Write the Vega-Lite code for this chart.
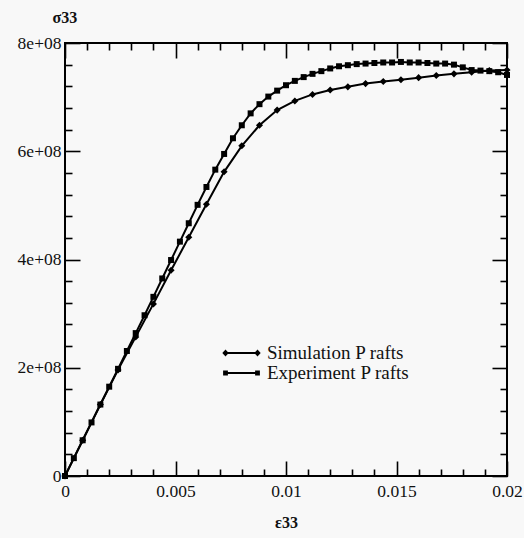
{
  "$schema": "https://vega.github.io/schema/vega-lite/v6.json",
  "autosize": {"type": "none"},
  "padding": {"left": 65, "top": 43, "right": 17, "bottom": 62},
  "width": 442,
  "height": 433,
  "background": "#f8f8f8",
  "config": {
    "view": {"stroke": "black", "strokeWidth": 2},
    "axis": {
      "grid": false,
      "domain": false,
      "tickColor": "black",
      "tickWidth": 1.6,
      "labelFont": "Liberation Serif",
      "labelFontSize": 17.5,
      "labelColor": "#111",
      "titleFont": "Liberation Serif",
      "titleFontSize": 16,
      "titleFontWeight": "bold",
      "titleColor": "#111",
      "labelOverlap": false,
      "labelFlush": false
    }
  },
  "data": {
    "values": [
      {"series": "Simulation P rafts", "strain": 0, "stress": 0},
      {"series": "Simulation P rafts", "strain": 0.0008, "stress": 0.66e8},
      {"series": "Simulation P rafts", "strain": 0.0016, "stress": 1.32e8},
      {"series": "Simulation P rafts", "strain": 0.0024, "stress": 1.96e8},
      {"series": "Simulation P rafts", "strain": 0.0032, "stress": 2.57e8},
      {"series": "Simulation P rafts", "strain": 0.004, "stress": 3.18e8},
      {"series": "Simulation P rafts", "strain": 0.0048, "stress": 3.80e8},
      {"series": "Simulation P rafts", "strain": 0.0056, "stress": 4.41e8},
      {"series": "Simulation P rafts", "strain": 0.0064, "stress": 5.02e8},
      {"series": "Simulation P rafts", "strain": 0.0072, "stress": 5.62e8},
      {"series": "Simulation P rafts", "strain": 0.008, "stress": 6.10e8},
      {"series": "Simulation P rafts", "strain": 0.0088, "stress": 6.48e8},
      {"series": "Simulation P rafts", "strain": 0.0096, "stress": 6.76e8},
      {"series": "Simulation P rafts", "strain": 0.0104, "stress": 6.93e8},
      {"series": "Simulation P rafts", "strain": 0.0112, "stress": 7.05e8},
      {"series": "Simulation P rafts", "strain": 0.012, "stress": 7.13e8},
      {"series": "Simulation P rafts", "strain": 0.0128, "stress": 7.19e8},
      {"series": "Simulation P rafts", "strain": 0.0136, "stress": 7.25e8},
      {"series": "Simulation P rafts", "strain": 0.0144, "stress": 7.29e8},
      {"series": "Simulation P rafts", "strain": 0.0152, "stress": 7.32e8},
      {"series": "Simulation P rafts", "strain": 0.016, "stress": 7.36e8},
      {"series": "Simulation P rafts", "strain": 0.0168, "stress": 7.40e8},
      {"series": "Simulation P rafts", "strain": 0.0176, "stress": 7.43e8},
      {"series": "Simulation P rafts", "strain": 0.0184, "stress": 7.46e8},
      {"series": "Simulation P rafts", "strain": 0.0192, "stress": 7.49e8},
      {"series": "Simulation P rafts", "strain": 0.02, "stress": 7.50e8},
      {"series": "Experiment P rafts", "strain": 0, "stress": 0},
      {"series": "Experiment P rafts", "strain": 0.0004, "stress": 0.33e8},
      {"series": "Experiment P rafts", "strain": 0.0008, "stress": 0.66e8},
      {"series": "Experiment P rafts", "strain": 0.0012, "stress": 0.99e8},
      {"series": "Experiment P rafts", "strain": 0.0016, "stress": 1.32e8},
      {"series": "Experiment P rafts", "strain": 0.002, "stress": 1.65e8},
      {"series": "Experiment P rafts", "strain": 0.0024, "stress": 1.98e8},
      {"series": "Experiment P rafts", "strain": 0.0028, "stress": 2.31e8},
      {"series": "Experiment P rafts", "strain": 0.0032, "stress": 2.64e8},
      {"series": "Experiment P rafts", "strain": 0.0036, "stress": 2.97e8},
      {"series": "Experiment P rafts", "strain": 0.004, "stress": 3.31e8},
      {"series": "Experiment P rafts", "strain": 0.0044, "stress": 3.65e8},
      {"series": "Experiment P rafts", "strain": 0.0048, "stress": 3.99e8},
      {"series": "Experiment P rafts", "strain": 0.0052, "stress": 4.33e8},
      {"series": "Experiment P rafts", "strain": 0.0056, "stress": 4.67e8},
      {"series": "Experiment P rafts", "strain": 0.006, "stress": 5.01e8},
      {"series": "Experiment P rafts", "strain": 0.0064, "stress": 5.34e8},
      {"series": "Experiment P rafts", "strain": 0.0068, "stress": 5.66e8},
      {"series": "Experiment P rafts", "strain": 0.0072, "stress": 5.95e8},
      {"series": "Experiment P rafts", "strain": 0.0076, "stress": 6.24e8},
      {"series": "Experiment P rafts", "strain": 0.008, "stress": 6.48e8},
      {"series": "Experiment P rafts", "strain": 0.0084, "stress": 6.70e8},
      {"series": "Experiment P rafts", "strain": 0.0088, "stress": 6.87e8},
      {"series": "Experiment P rafts", "strain": 0.0092, "stress": 7.01e8},
      {"series": "Experiment P rafts", "strain": 0.0096, "stress": 7.12e8},
      {"series": "Experiment P rafts", "strain": 0.01, "stress": 7.22e8},
      {"series": "Experiment P rafts", "strain": 0.0104, "stress": 7.30e8},
      {"series": "Experiment P rafts", "strain": 0.0108, "stress": 7.37e8},
      {"series": "Experiment P rafts", "strain": 0.0112, "stress": 7.43e8},
      {"series": "Experiment P rafts", "strain": 0.0116, "stress": 7.48e8},
      {"series": "Experiment P rafts", "strain": 0.012, "stress": 7.53e8},
      {"series": "Experiment P rafts", "strain": 0.0124, "stress": 7.57e8},
      {"series": "Experiment P rafts", "strain": 0.0128, "stress": 7.59e8},
      {"series": "Experiment P rafts", "strain": 0.0132, "stress": 7.61e8},
      {"series": "Experiment P rafts", "strain": 0.0136, "stress": 7.62e8},
      {"series": "Experiment P rafts", "strain": 0.014, "stress": 7.63e8},
      {"series": "Experiment P rafts", "strain": 0.0144, "stress": 7.64e8},
      {"series": "Experiment P rafts", "strain": 0.0148, "stress": 7.64e8},
      {"series": "Experiment P rafts", "strain": 0.0152, "stress": 7.65e8},
      {"series": "Experiment P rafts", "strain": 0.0156, "stress": 7.64e8},
      {"series": "Experiment P rafts", "strain": 0.016, "stress": 7.64e8},
      {"series": "Experiment P rafts", "strain": 0.0164, "stress": 7.63e8},
      {"series": "Experiment P rafts", "strain": 0.0168, "stress": 7.62e8},
      {"series": "Experiment P rafts", "strain": 0.0172, "stress": 7.62e8},
      {"series": "Experiment P rafts", "strain": 0.0176, "stress": 7.60e8},
      {"series": "Experiment P rafts", "strain": 0.018, "stress": 7.55e8},
      {"series": "Experiment P rafts", "strain": 0.0184, "stress": 7.50e8},
      {"series": "Experiment P rafts", "strain": 0.0188, "stress": 7.49e8},
      {"series": "Experiment P rafts", "strain": 0.0192, "stress": 7.48e8},
      {"series": "Experiment P rafts", "strain": 0.0196, "stress": 7.46e8},
      {"series": "Experiment P rafts", "strain": 0.02, "stress": 7.41e8}
    ]
  },
  "layer": [
    {
      "mark": {"type": "line", "color": "black", "strokeWidth": 2},
      "encoding": {
        "x": {
          "field": "strain", "type": "quantitative",
          "scale": {"domain": [0, 0.02], "nice": false},
          "axis": {
            "orient": "bottom",
            "values": [0, 0.005, 0.01, 0.015, 0.02],
            "format": "~g",
            "offset": -15,
            "tickSize": 15,
            "labelPadding": 6,
            "title": "ε33",
            "titleY": 66,
            "titleBaseline": "alphabetic"
          }
        },
        "y": {
          "field": "stress", "type": "quantitative",
          "scale": {"domain": [0, 8e8], "nice": false},
          "axis": {
            "orient": "left",
            "values": [0, 2e8, 4e8, 6e8, 8e8],
            "labelExpr": "datum.value == 0 ? '0' : format(datum.value/1e8, 'd') + 'e+08'",
            "offset": -15,
            "tickSize": 15,
            "labelPadding": 4,
            "title": "σ33",
            "titleAngle": 0,
            "titleX": -28,
            "titleY": -21,
            "titleAlign": "left",
            "titleBaseline": "alphabetic"
          }
        },
        "detail": {"field": "series", "type": "nominal"}
      }
    },
    {
      "transform": [{"filter": "datum.series == 'Simulation P rafts'"}],
      "mark": {"type": "point", "shape": "diamond", "filled": true, "color": "black", "opacity": 1, "size": 50},
      "encoding": {
        "x": {
          "field": "strain", "type": "quantitative",
          "axis": {"orient": "top", "values": [0, 0.005, 0.01, 0.015, 0.02], "labels": false, "title": null, "offset": -15, "tickSize": 15}
        },
        "y": {
          "field": "stress", "type": "quantitative",
          "axis": {"orient": "right", "values": [0, 2e8, 4e8, 6e8, 8e8], "labels": false, "title": null, "offset": -15, "tickSize": 15}
        }
      }
    },
    {
      "transform": [{"filter": "datum.series == 'Experiment P rafts'"}],
      "mark": {"type": "point", "shape": "square", "filled": true, "color": "black", "opacity": 1, "size": 36},
      "encoding": {
        "x": {
          "field": "strain", "type": "quantitative",
          "axis": {"orient": "bottom", "values": [0.001, 0.002, 0.003, 0.004, 0.006, 0.007, 0.008, 0.009, 0.011, 0.012, 0.013, 0.014, 0.016, 0.017, 0.018, 0.019], "labels": false, "title": null, "offset": -7, "tickSize": 7}
        },
        "y": {
          "field": "stress", "type": "quantitative",
          "axis": {"orient": "left", "values": [4e7, 8e7, 1.2e8, 1.6e8, 2.4e8, 2.8e8, 3.2e8, 3.6e8, 4.4e8, 4.8e8, 5.2e8, 5.6e8, 6.4e8, 6.8e8, 7.2e8, 7.6e8], "labels": false, "title": null, "offset": -7, "tickSize": 7}
        }
      }
    },
    {
      "transform": [{"filter": "false"}],
      "mark": {"type": "point", "filled": true, "color": "black", "opacity": 0},
      "encoding": {
        "x": {
          "field": "strain", "type": "quantitative",
          "axis": {"orient": "top", "values": [0.001, 0.002, 0.003, 0.004, 0.006, 0.007, 0.008, 0.009, 0.011, 0.012, 0.013, 0.014, 0.016, 0.017, 0.018, 0.019], "labels": false, "title": null, "offset": -7, "tickSize": 7}
        },
        "y": {
          "field": "stress", "type": "quantitative",
          "axis": {"orient": "right", "values": [4e7, 8e7, 1.2e8, 1.6e8, 2.4e8, 2.8e8, 3.2e8, 3.6e8, 4.4e8, 4.8e8, 5.2e8, 5.6e8, 6.4e8, 6.8e8, 7.2e8, 7.6e8], "labels": false, "title": null, "offset": -7, "tickSize": 7}
        }
      }
    },
    {
      "transform": [{"filter": "false"}],
      "mark": {"type": "point", "filled": true, "color": "black", "opacity": 1},
      "encoding": {
        "shape": {
          "field": "series", "type": "nominal",
          "scale": {
            "domain": ["Simulation P rafts", "Experiment P rafts"],
            "range": [
              "M-1.6,-0.09L1.6,-0.09L1.6,0.09L-1.6,0.09ZM-1.92,0L-1.6,-0.34L-1.28,0L-1.6,0.34ZM1.28,0L1.6,-0.34L1.92,0L1.6,0.34Z",
              "M-1.6,-0.09L1.6,-0.09L1.6,0.09L-1.6,0.09ZM-1.84,-0.24L-1.36,-0.24L-1.36,0.24L-1.84,0.24ZM1.36,-0.24L1.84,-0.24L1.84,0.24L1.36,0.24Z"
            ]
          },
          "legend": {
            "orient": "none",
            "legendX": 166.5,
            "legendY": 300,
            "title": null,
            "padding": 0,
            "rowPadding": 0,
            "symbolSize": 400,
            "symbolFillColor": "black",
            "symbolStrokeColor": "black",
            "symbolStrokeWidth": 0,
            "symbolOpacity": 1,
            "labelOffset": 15.5,
            "labelFont": "Liberation Serif",
            "labelFontSize": 19,
            "labelColor": "#111",
            "labelLimit": 300,
            "encode": {
              "symbols": {
                "update": {
                  "fill": {"value": "black"},
                  "opacity": {"value": 1}
                }
              }
            }
          }
        }
      }
    }
  ],
  "resolve": {"axis": {"x": "independent", "y": "independent"}}
}
